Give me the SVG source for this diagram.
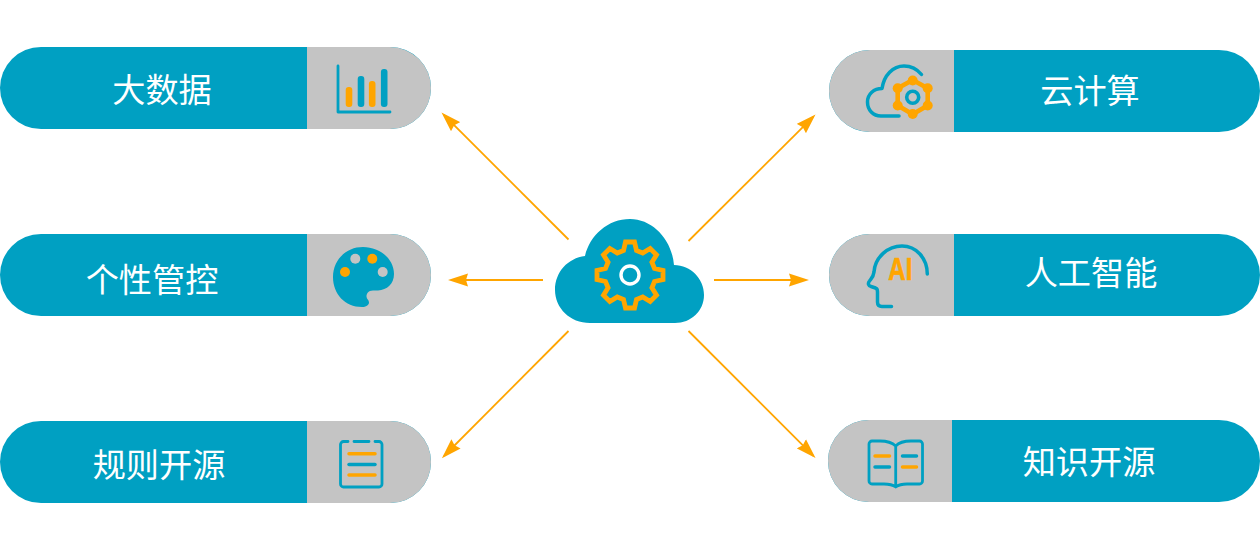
<svg xmlns="http://www.w3.org/2000/svg" width="1260" height="550" viewBox="0 0 1260 550">
<style>
.pill{fill:#00a0c2}
.end{fill:#c4c4c4}
.label{font-family:"Noto Sans CJK SC","Noto Sans",sans-serif;font-size:33.2px;fill:#fff;text-anchor:middle}
.t{fill:none;stroke:#00a0c2;stroke-width:3.5;stroke-linecap:round;stroke-linejoin:round}
.o{fill:none;stroke:#ffa500;stroke-width:3.5;stroke-linecap:round;stroke-linejoin:round}
.thin{stroke-width:2.8}
.tf{fill:#00a0c2}
.of{fill:#ffa500}
.gf{fill:#c4c4c4}
.arrow{fill:none;stroke:#ffa500;stroke-width:1.8;marker-end:url(#head)}
</style>
<defs>
<marker id="head" viewBox="0 0 20 14" refX="17" refY="7" markerWidth="20" markerHeight="14" markerUnits="userSpaceOnUse" orient="auto">
<path d="M0 0.5L20 7L0 13.5L2 7Z" fill="#ffa500"/>
</marker>
</defs>
<g id="connectors">
<line class="arrow" x1="568.5" y1="239.5" x2="443.6" y2="114.6"/>
<line class="arrow" x1="543" y1="280" x2="451" y2="280"/>
<line class="arrow" x1="568.5" y1="331" x2="444" y2="456"/>
<line class="arrow" x1="688.5" y1="241" x2="813.4" y2="116.6"/>
<line class="arrow" x1="714" y1="280" x2="806" y2="280"/>
<line class="arrow" x1="688.5" y1="331" x2="813.4" y2="455.9"/>
</g>
<g id="center">
<path class="tf" d="M590 323C570 323 555 308 555 290C555 272 568 258 585 256C590 235 608 219 630 219C653 219 672 240 674 265C691 265 704 279 704 295C704 311 691 323 675 323Z"/>
<path transform="translate(630 275)" fill="none" stroke="#ffa500" stroke-width="4.8" stroke-linejoin="miter" d="M-6.5-24.5L-4.5-33L4.5-33L6.5-24.5L12.73-21.92L20.15-26.52L26.52-20.15L21.92-12.73L24.5-6.5L33-4.5L33 4.5L24.5 6.5L21.92 12.73L26.52 20.15L20.15 26.52L12.73 21.92L6.5 24.5L4.5 33L-4.5 33L-6.5 24.5L-12.73 21.92L-20.15 26.52L-26.52 20.15L-21.92 12.73L-24.5 6.5L-33 4.5L-33-4.5L-24.5-6.5L-21.92-12.73L-26.52-20.15L-20.15-26.52L-12.73-21.92Z"/>
<circle cx="630" cy="275" r="9" fill="none" stroke="#fff" stroke-width="3.4"/>
</g>
<g id="node-bigdata">
<rect class="pill" x="0" y="47" width="431" height="82" rx="41"/>
<path class="end" d="M307 47H390A41 41 0 0 1 390 129H307Z"/>
<text class="label" x="162" y="102">大数据</text>
<path class="t thin" d="M338 66V112H390"/>
<rect class="of" x="345.7" y="87" width="6.6" height="20" rx="3"/>
<rect class="tf" x="357.7" y="76" width="6.6" height="31" rx="3"/>
<rect class="of" x="368.9" y="81" width="6.6" height="26" rx="3"/>
<rect class="tf" x="380.9" y="69" width="6.6" height="38" rx="3"/>
</g>
<g id="node-personal">
<rect class="pill" x="0" y="234" width="431" height="82" rx="41"/>
<path class="end" d="M307 234H390A41 41 0 0 1 390 316H307Z"/>
<text class="label" x="152" y="292">个性管控</text>
<path class="tf" d="M363 247C380 247 394 259 394 274C394 284 387 290 378 290.5L373 290.5C368 290.5 366.5 294 366.5 296.5C366.5 299 369 300 369 302.5C369 305 366 307 362 307C345 307 333 294 333 277C333 260 346 247 363 247Z"/>
<circle class="of" cx="345" cy="272" r="5"/>
<circle class="gf" cx="355.3" cy="258.7" r="5"/>
<circle class="of" cx="372.3" cy="258.7" r="5"/>
<circle class="gf" cx="382.7" cy="272" r="5"/>
</g>
<g id="node-rules">
<rect class="pill" x="0" y="421" width="431" height="82" rx="41"/>
<path class="end" d="M307 421H390A41 41 0 0 1 390 503H307Z"/>
<text class="label" x="159" y="476.5">规则开源</text>
<path class="t thin" d="M348 441.5H343.5A3 3 0 0 0 340.5 444.5V484A3 3 0 0 0 343.5 487H379A3 3 0 0 0 382 484V444.5A3 3 0 0 0 379 441.5H375M354 441.5H369"/>
<path class="o" d="M349 453.7H375M349 475H375"/>
<path class="t" d="M349 464.5H375"/>
</g>
<g id="node-cloud">
<rect class="pill" x="829" y="50" width="431" height="82" rx="41"/>
<path class="end" d="M954 50H870A41 41 0 0 0 870 132H954Z"/>
<text class="label" x="1090" y="103">云计算</text>
<path class="t" d="M899 116H881C873 116 867.5 110 867.5 102C867.5 94 874 88.5 882 88.5C884 75 893 66 904 66C911 66 917 69 921.5 74.5"/>
<path fill="none" stroke="#ffa500" stroke-width="4.6" stroke-linejoin="round" d="M912.7 80L927.7 88.3V105.5L912.7 114.3L897.7 105.5V88.3Z"/>
<g class="of"><circle cx="912.7" cy="80.5" r="5"/><circle cx="927.7" cy="88.3" r="5"/><circle cx="927.7" cy="105.5" r="5"/><circle cx="912.7" cy="114" r="5"/><circle cx="897.7" cy="105.5" r="5"/><circle cx="897.7" cy="88.3" r="5"/></g>
<circle cx="912.7" cy="97.3" r="6" fill="none" stroke="#00a0c2" stroke-width="3.6"/>
</g>
<g id="node-ai">
<rect class="pill" x="829" y="234" width="431" height="82" rx="41"/>
<path class="end" d="M954 234H870A41 41 0 0 0 870 316H954Z"/>
<text class="label" x="1091" y="285">人工智能</text>
<path class="t" d="M927.3 274C927.3 258 916 246 902 246C888 246 875 257 874 272C873.5 277 871 279 869.5 281C867.5 283.5 868.5 286 871 286.5L875.5 288C877.5 288.5 877.5 290 877.5 292V302C877.5 305 879 306.5 882 306.5H891.5"/>
<text x="888.3" y="280" font-family="Liberation Sans,sans-serif" font-weight="700" font-size="32" fill="#ffa500" stroke="#ffa500" stroke-width="0.7" textLength="24" lengthAdjust="spacingAndGlyphs">AI</text>
</g>
<g id="node-knowledge">
<rect class="pill" x="828" y="420" width="432" height="82" rx="41"/>
<path class="end" d="M952 420H869A41 41 0 0 0 869 502H952Z"/>
<text class="label" x="1089" y="474">知识开源</text>
<path class="t thin" d="M895.7 446C892 442.5 886 441 880 441H872A3 3 0 0 0 869 444V481A3 3 0 0 0 872 484H884C888 484 893 485 895.7 487C898.4 485 903 484 907 484H919.5A3 3 0 0 0 922.5 481V444A3 3 0 0 0 919.5 441H911C905 441 899 442.5 895.7 446V487"/>
<path class="o" d="M875 456H889.5M902.5 467H916.5"/>
<path class="t" d="M902.5 456H916.5M875 467H889.5"/>
</g>
</svg>
